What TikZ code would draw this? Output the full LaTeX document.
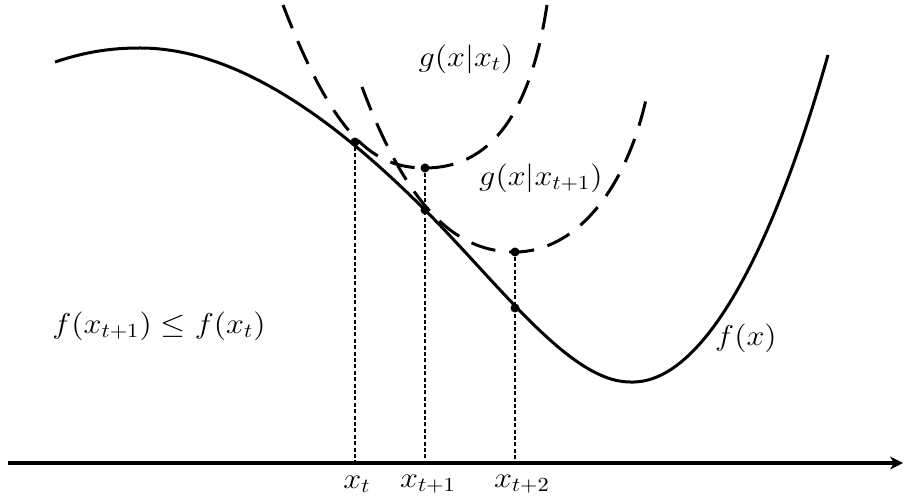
\documentclass[tikz,border=0pt]{standalone}
\usetikzlibrary{arrows.meta}
\newcommand{\wide}[1]{\scalebox{1.12}[1]{#1}}
\begin{document}
\begin{tikzpicture}[
  x=0.5pt, y=-0.5pt,
  >=Stealth,
  curve/.style={line width=1.5pt},
  bound/.style={line width=1.5pt, dash pattern=on 12.5pt off 7pt},
  drop/.style={line width=1.4pt, dash pattern=on 2pt off 1.2pt},
  dot/.style={circle, fill=black, inner sep=0pt, minimum size=4.5pt},
  lbl/.style={font=\fontsize{14}{16}\selectfont, inner sep=0pt}
]
\useasboundingbox (0,0) rectangle (905,501);

% axis
\coordinate (o) at (8,463);
\coordinate (e) at (903,463);
\draw[->, line width=1.7pt, >={Stealth[length=6.5pt,width=6.5pt]}] (o) -- (e);

% f(x)
\draw[curve] (55,62) .. controls (85,52) and (110,48) .. (140,48)
  .. controls (240,48) and (340,125) .. (425,210)
  .. controls (500,285) and (570,382) .. (630,382)
  .. controls (700,385) and (770,260) .. (828,55);

% majorizers
\draw[bound] (283,5) .. controls (335,140) and (375,168) .. (425,168)
  .. controls (480,168) and (528,130) .. (547,5);
\draw[bound] (362,87) .. controls (410,215) and (460,252) .. (515,252)
  .. controls (575,252) and (628,190) .. (648,90);

% points
\node[dot] (ft)  at (355,142) {};
\node[dot] (gt)  at (425,168) {};
\node[dot] (ft1) at (425,210) {};
\node[dot] (gt1) at (515,252) {};
\node[dot] (ft2) at (515,308) {};

\coordinate (bt)  at (355,463);
\coordinate (bt1) at (425,463);
\coordinate (bt2) at (515,463);
\draw[drop] (ft) -- (bt);
\draw[drop] (gt) -- (bt1);
\draw[drop] (gt1) -- (bt2);

% labels
\node[lbl] (lxt)  at (357,484) {\wide{$x_t$}};
\node[lbl] (lxt1) at (428,484) {\wide{$x_{t+1}$}};
\node[lbl] (lxt2) at (522,484) {\wide{$x_{t+2}$}};
\node[lbl] (lg)   at (466,59)  {\wide{$g(x|x_t)$}};
\node[lbl] (lg1)  at (541,178) {\wide{$g(x|x_{t+1})$}};
\node[lbl] (lf)   at (746,338) {\wide{$f(x)$}};
\node[lbl] (lineq) at (159,326) {\wide{$f(x_{t+1})\leq f(x_t)$}};
\end{tikzpicture}
\end{document}
